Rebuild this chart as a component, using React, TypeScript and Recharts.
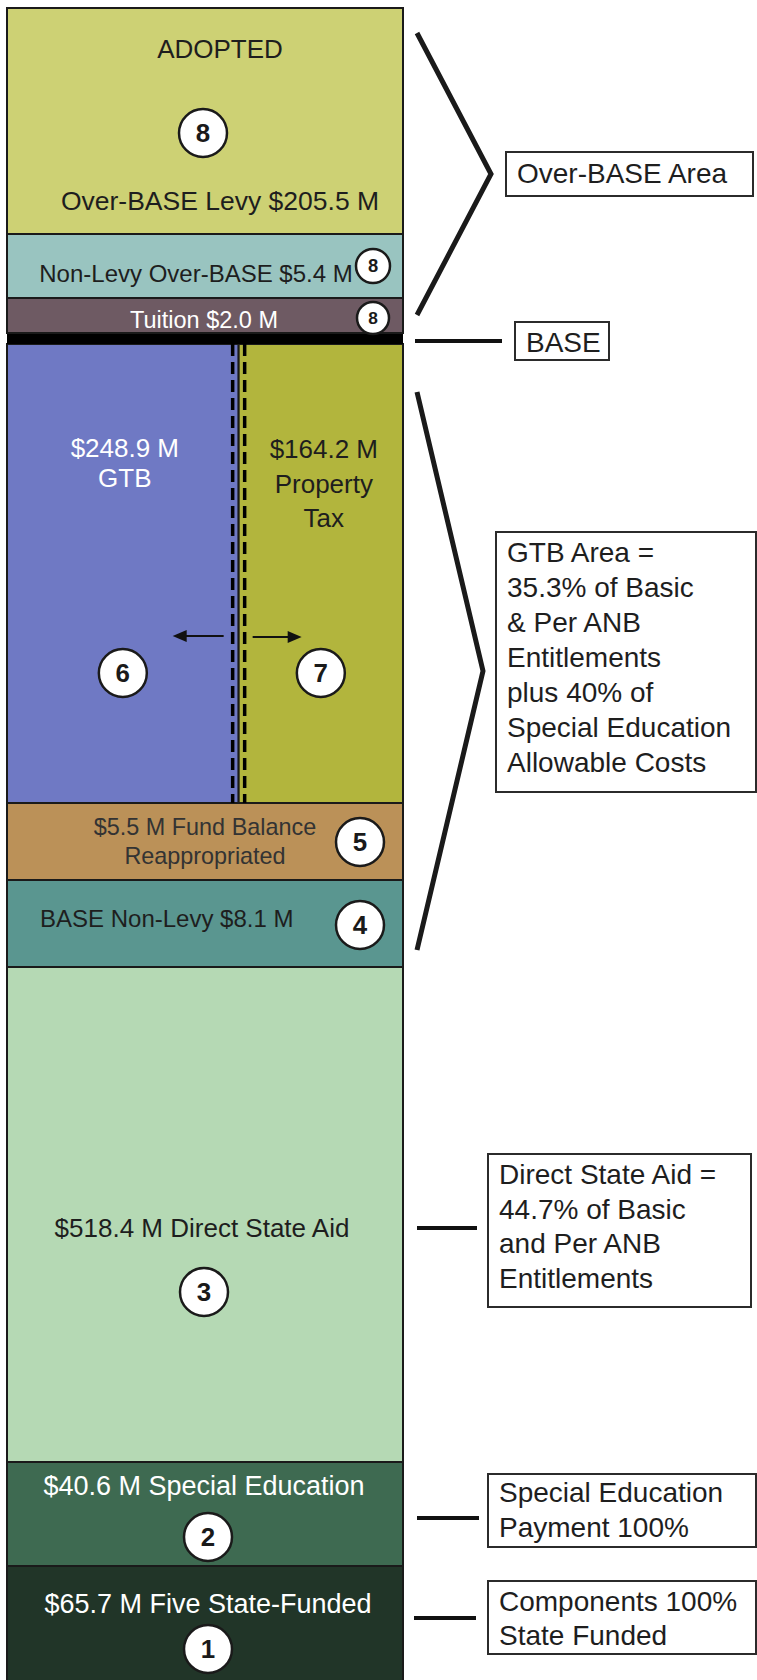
import React from 'react';
import { BarChart, Bar, XAxis, YAxis } from 'recharts';

// one stacked column, bottom to top
const categories = ['Adopted'];
const segmentKeys = ['five', 'specEd', 'directAid', 'baseNonLevy', 'fundBalance', 'gtbTax', 'baseLine', 'tuition', 'nonLevy', 'overBase'];
// block heights as drawn (schematic, not to scale with the dollar amounts)
const blockHeights = [134, 104, 495, 87, 77, 459, 11, 35, 64, 226];
// dollar amounts in $M shown in the labels
const amountsM = [65.7, 40.6, 518.4, 8.1, 5.5, 248.9, 0, 2.0, 5.4, 205.5];
const propertyTaxM = 164.2;
// GTB / property tax column split, % of the bar width
const gtbSplitPct = [58.5, 41.5];
const badgeNumbers = [1, 2, 3, 4, 5, 6, 0, 8, 8, 8];
const propertyTaxBadge = 7;
const segmentFills = ['#213528', '#3e6a51', '#b5d9b4', '#5a9690', '#bb9158', '#6f79c4', '#000000', '#6e5a63', '#99c4c0', '#cdd174'];
const propertyTaxFill = '#b2b53d';

const overBaseNote = ['Over-BASE Area'];
const baseNote = ['BASE'];
const gtbNote = ['GTB Area =', '35.3% of Basic', '& Per ANB', 'Entitlements', 'plus 40% of', 'Special Education', 'Allowable Costs'];
const directAidNote = ['Direct State Aid =', '44.7% of Basic', 'and Per ANB', 'Entitlements'];
const specEdNote = ['Special Education', 'Payment 100%'];
const fiveNote = ['Components 100%', 'State Funded'];

const money = (v: number) => `$${v.toFixed(1)} M`;

const row: any = { name: categories[0] };
segmentKeys.forEach((k, i) => (row[k] = blockHeights[i]));
const data = [row];

const cumLow = blockHeights.map((_, i) => blockHeights.slice(0, i).reduce((a, b) => a + b, 0));

const FONT = '"Liberation Sans", Arial, Helvetica, sans-serif';
const DARK = '#1e1e1e';
const idx = (k: string) => segmentKeys.indexOf(k);

function Badge({ cx, cy, n, r = 24 }: { cx: number; cy: number; n: number; r?: number }) {
  return (
    <g>
      <circle cx={cx} cy={cy} r={r} fill="#fff" stroke="#1a1a1a" strokeWidth={2.5} />
      <text x={cx} y={cy + r * 0.38} textAnchor="middle" fontFamily={FONT} fontWeight="bold" fontSize={r * 1.08} fill="#1a1a1a">
        {n}
      </text>
    </g>
  );
}

function Label({ x, y, children, size = 26, color = DARK, anchor = 'middle' }: any) {
  return (
    <text x={x} y={y} textAnchor={anchor} fontFamily={FONT} fontSize={size} fill={color}>
      {children}
    </text>
  );
}

function NoteBox({ x, y, w, h, lines, first, step }: any) {
  return (
    <g>
      <rect x={x} y={y} width={w} height={h} fill="#fff" stroke="#2b2b2b" strokeWidth={2} />
      {lines.map((t: string, i: number) => (
        <Label key={i} x={x + 11} y={y + first + i * step} size={28} anchor="start">{t}</Label>
      ))}
    </g>
  );
}

function Arrow({ x1, x2, y }: { x1: number; x2: number; y: number }) {
  const d = x2 > x1 ? 1 : -1;
  return (
    <g>
      <line x1={x1} y1={y} x2={x2 - d * 10} y2={y} stroke="#111" strokeWidth={2} />
      <path d={`M${x2},${y} L${x2 - d * 14},${y - 6} L${x2 - d * 14},${y + 6} Z`} fill="#111" />
    </g>
  );
}

function Notes({ yOf, right }: { yOf: (v: number) => number; right: number }) {
  const top = (k: string) => yOf(cumLow[idx(k)] + blockHeights[idx(k)]);
  const bottom = (k: string) => yOf(cumLow[idx(k)]);

  const ob0 = top('overBase') + 25;
  const ob1 = bottom('tuition') - 18;
  const obTip = (ob0 + ob1) / 2;

  const g0 = top('gtbTax') + 48;
  const g1 = bottom('baseNonLevy') - 17;
  const gTip = (g0 + g1) / 2;

  const baseY = top('baseLine') + 8;
  const dsaY = top('directAid') + 261;
  const spY = top('specEd') + 56;
  const fiveY = top('five') + 52;

  return (
    <g>
      <polyline points={`${right + 14},${ob0} ${right + 88},${obTip} ${right + 14},${ob1}`} fill="none" stroke="#1a1a1a" strokeWidth={5} />
      <NoteBox x={right + 103} y={obTip - 22} w={247} h={44} lines={overBaseNote} first={31} step={0} />

      <line x1={right + 12} y1={baseY} x2={right + 99} y2={baseY} stroke="#111" strokeWidth={4} />
      <NoteBox x={right + 112} y={baseY - 19} w={94} h={38} lines={baseNote} first={30} step={0} />

      <polyline points={`${right + 14},${g0} ${right + 80},${gTip} ${right + 14},${g1}`} fill="none" stroke="#1a1a1a" strokeWidth={5} />
      <NoteBox x={right + 93} y={gTip - 139} w={260} h={260} lines={gtbNote} first={30} step={35} />

      <line x1={right + 14} y1={dsaY} x2={right + 74} y2={dsaY} stroke="#111" strokeWidth={4} />
      <NoteBox x={right + 85} y={dsaY - 74} w={263} h={153} lines={directAidNote} first={30} step={34.5} />

      <line x1={right + 14} y1={spY} x2={right + 76} y2={spY} stroke="#111" strokeWidth={4} />
      <NoteBox x={right + 85} y={spY - 44} w={268} h={73} lines={specEdNote} first={28} step={35} />

      <line x1={right + 11} y1={fiveY} x2={right + 73} y2={fiveY} stroke="#111" strokeWidth={4} />
      <NoteBox x={right + 85} y={fiveY - 37} w={268} h={73} lines={fiveNote} first={30} step={34} />
    </g>
  );
}

function renderSegment(key: string, p: any) {
  const i = idx(key);
  const { x, y, width, height } = p;
  if (width == null || height == null) return <g />;
  const right = x + width;
  const cx = x + width / 2;
  const fill = segmentFills[i];
  const box = <rect x={x} y={y} width={width} height={height} fill={fill} stroke="#1a1a1a" strokeWidth={2} />;

  switch (key) {
    case 'five':
      return (
        <g>
          {box}
          <Label x={cx + 3} y={y + 47} size={27} color="#fff">{`${money(amountsM[i])} Five State-Funded`}</Label>
          <Badge cx={cx + 3} cy={y + 83} n={badgeNumbers[i]} />
        </g>
      );
    case 'specEd':
      return (
        <g>
          {box}
          <Label x={cx - 1} y={y + 33} size={27} color="#fff">{`${money(amountsM[i])} Special Education`}</Label>
          <Badge cx={cx + 3} cy={y + 75} n={badgeNumbers[i]} />
        </g>
      );
    case 'directAid':
      return (
        <g>
          {box}
          <Label x={cx - 3} y={y + 270}>{`${money(amountsM[i])} Direct State Aid`}</Label>
          <Badge cx={cx - 1} cy={y + 325} n={badgeNumbers[i]} />
        </g>
      );
    case 'baseNonLevy':
      return (
        <g>
          {box}
          <Label x={x + 33} y={y + 47} size={24} anchor="start">{`BASE Non-Levy ${money(amountsM[i])}`}</Label>
          <Badge cx={right - 43} cy={y + 45} n={badgeNumbers[i]} />
        </g>
      );
    case 'fundBalance':
      return (
        <g>
          {box}
          <Label x={cx} y={y + 32} size={23.4} color="#333">{`${money(amountsM[i])} Fund Balance`}</Label>
          <Label x={cx} y={y + 61} size={23.4} color="#333">Reappropriated</Label>
          <Badge cx={right - 43} cy={y + 39} n={badgeNumbers[i]} />
        </g>
      );
    case 'gtbTax': {
      const wL = (width * gtbSplitPct[0]) / 100;
      const div = x + wL;
      const cL = x + wL / 2;
      const cR = div + (width - wL) / 2;
      return (
        <g>
          <rect x={x} y={y} width={wL} height={height} fill={fill} stroke="#1a1a1a" strokeWidth={2} />
          <rect x={div} y={y} width={width - wL} height={height} fill={propertyTaxFill} stroke="#1a1a1a" strokeWidth={2} />
          <line x1={div - 6} y1={y} x2={div - 6} y2={y + height} stroke="#000" strokeWidth={3.5} strokeDasharray="12 6" />
          <line x1={div + 6} y1={y} x2={div + 6} y2={y + height} stroke="#000" strokeWidth={3.5} strokeDasharray="12 6" />
          <Label x={cL + 2} y={y + 113} color="#fff">{money(amountsM[i])}</Label>
          <Label x={cL + 2} y={y + 143} color="#fff">GTB</Label>
          <Label x={cR + 3} y={y + 114}>{money(propertyTaxM)}</Label>
          <Label x={cR + 3} y={y + 149}>Property</Label>
          <Label x={cR + 3} y={y + 183}>Tax</Label>
          <Arrow x1={div - 15} x2={div - 66} y={y + 292} />
          <Arrow x1={div + 14} x2={div + 63} y={y + 293} />
          <Badge cx={cL} cy={y + 329} n={badgeNumbers[i]} />
          <Badge cx={cR} cy={y + 329} n={propertyTaxBadge} />
        </g>
      );
    }
    case 'baseLine':
      return <rect x={x} y={y} width={width} height={height} fill={fill} />;
    case 'tuition':
      return (
        <g>
          {box}
          <Label x={cx - 1} y={y + 30} size={23.5} color="#fff">{`Tuition ${money(amountsM[i])}`}</Label>
          <Badge cx={right - 30} cy={y + 20} n={badgeNumbers[i]} r={16} />
        </g>
      );
    case 'nonLevy':
      return (
        <g>
          {box}
          <Label x={cx - 9} y={y + 48} size={24}>{`Non-Levy Over-BASE ${money(amountsM[i])}`}</Label>
          <Badge cx={right - 30} cy={y + 32} n={badgeNumbers[i]} r={17} />
        </g>
      );
    case 'overBase': {
      const k = height / blockHeights[i];
      const zero = y + height + cumLow[i] * k;
      const yOf = (v: number) => zero - v * k;
      return (
        <g>
          {box}
          <Label x={cx + 15} y={y + 50}>ADOPTED</Label>
          <Badge cx={cx - 2} cy={y + 125} n={badgeNumbers[i]} />
          <Label x={cx + 15} y={y + 202} size={26.5}>{`Over-BASE Levy ${money(amountsM[i])}`}</Label>
          <Notes yOf={yOf} right={right} />
        </g>
      );
    }
    default:
      return box;
  }
}

export default function App() {
  return (
    <div style={{ position: 'absolute', left: 0, top: 0, width: 757, height: 1680, overflow: 'hidden', background: '#fff' }}>
      <BarChart width={757} height={1700} data={data} margin={{ top: 8, right: 354, left: 7, bottom: 0 }} barCategoryGap={0} barGap={0}>
        <XAxis dataKey="name" type="category" hide />
        <YAxis type="number" domain={[0, 'dataMax']} hide />
        {segmentKeys.map((k) => (
          <Bar key={k} dataKey={k} stackId="col" fill={segmentFills[idx(k)]} isAnimationActive={false} shape={(p: any) => renderSegment(k, p)} />
        ))}
      </BarChart>
    </div>
  );
}
